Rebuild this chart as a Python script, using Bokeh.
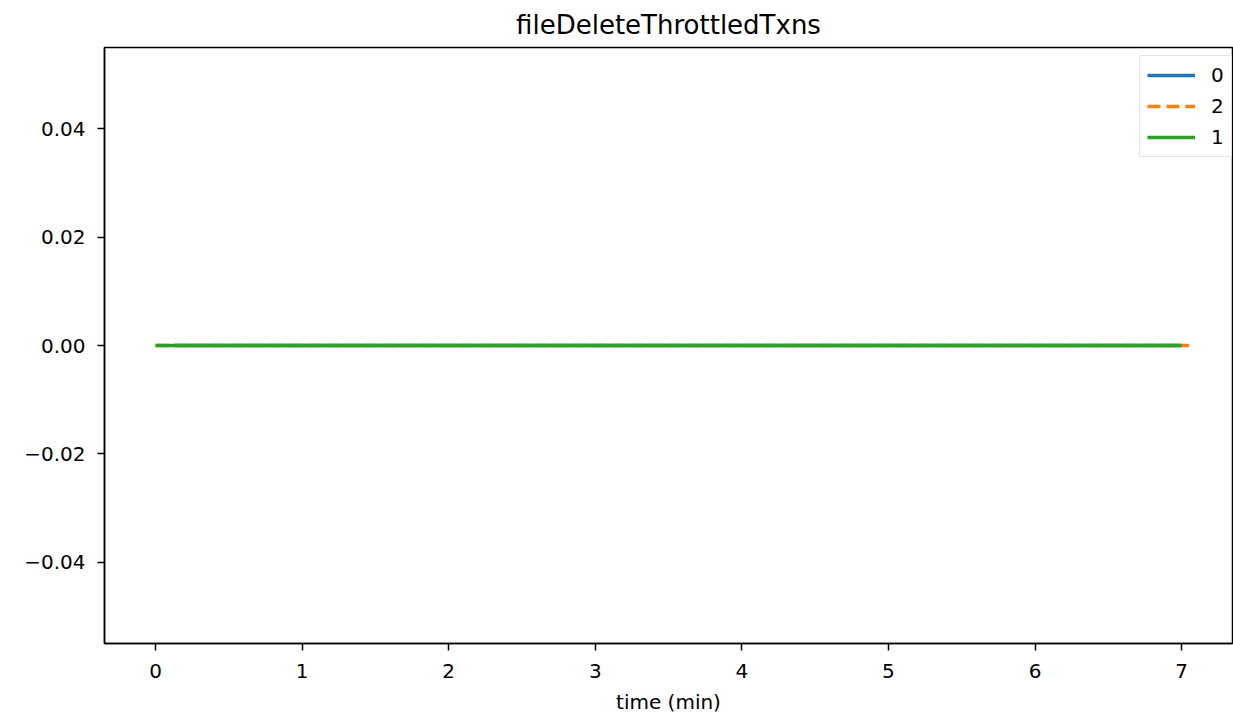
from bokeh.plotting import figure
from bokeh.models import FixedTicker, CustomJSTickFormatter, Range1d, Legend, LegendItem
from bokeh.embed import file_html
from bokeh.resources import INLINE

# ---- data ----
title_text = "fileDeleteThrottledTxns"
x_label = "time (min)"
series_names = ["0", "2", "1"]
time_0 = [0.13, 0.5, 1.0, 1.5, 2.0, 2.5, 3.0, 3.5, 4.0, 4.5, 5.0, 5.5, 6.0, 6.5, 7.0]
vals_0 = [0, 0, 0, 0, 0, 0, 0, 0, 0, 0, 0, 0, 0, 0, 0]
time_2 = [0.0, 0.5, 1.0, 1.5, 2.0, 2.5, 3.0, 3.5, 4.0, 4.5, 5.0, 5.5, 6.0, 6.5, 7.05]
vals_2 = [0, 0, 0, 0, 0, 0, 0, 0, 0, 0, 0, 0, 0, 0, 0]
time_1 = [0.0, 0.5, 1.0, 1.5, 2.0, 2.5, 3.0, 3.5, 4.0, 4.5, 5.0, 5.5, 6.0, 6.5, 7.0]
vals_1 = [0, 0, 0, 0, 0, 0, 0, 0, 0, 0, 0, 0, 0, 0, 0]
x_ticks = [0, 1, 2, 3, 4, 5, 6, 7]
y_ticks = [-0.04, -0.02, 0.0, 0.02, 0.04]

FONT = "DejaVu Sans"

p = figure(width=1233, height=719, output_backend="svg", toolbar_location=None,
           x_range=Range1d(-0.348, 7.347), y_range=Range1d(-0.055, 0.055),
           min_border_left=104, min_border_right=1, min_border_top=46, min_border_bottom=76)
p.background_fill_color = "white"
p.border_fill_color = "white"
p.xgrid.visible = False
p.ygrid.visible = False
p.outline_line_color = "black"
p.outline_line_width = 1.5
p.outline_line_alpha = 1.0

p.title.text = title_text
p.title.align = "center"
p.title.text_font = FONT
p.title.text_font_size = "26px"
p.title.text_font_style = "normal"
p.title.text_color = "black"
p.title.standoff = 15

for ax in (p.xaxis[0], p.yaxis[0]):
    ax.axis_line_color = "black"
    ax.axis_line_width = 1.5
    ax.major_tick_line_width = 1.5
    ax.major_tick_out = 7
    ax.major_tick_in = 0
    ax.minor_tick_line_color = None
    ax.major_label_text_font = FONT
    ax.major_label_text_font_size = "20px"
    ax.major_label_text_color = "black"

p.xaxis[0].major_label_standoff = 13
p.yaxis[0].major_label_standoff = 12
p.xaxis[0].ticker = FixedTicker(ticks=x_ticks)
p.yaxis[0].ticker = FixedTicker(ticks=y_ticks)
p.yaxis[0].formatter = CustomJSTickFormatter(
    code="return tick < -1e-12 ? '\\u2212' + Math.abs(tick).toFixed(2) : Math.abs(tick).toFixed(2);")
p.xaxis[0].axis_label = x_label
p.xaxis[0].axis_label_text_font = FONT
p.xaxis[0].axis_label_text_font_size = "20px"
p.xaxis[0].axis_label_text_font_style = "normal"
p.xaxis[0].axis_label_text_color = "black"
p.xaxis[0].axis_label_standoff = 9

LW = 3.5
r0 = p.line(time_0, vals_0, line_color="#1f77b4", line_width=LW)
r2 = p.line(time_2, vals_2, line_color="#ff7f0e", line_width=LW, line_dash="13 6")
r1 = p.line(time_1, vals_1, line_color="#2ca02c", line_width=LW)

legend = Legend(items=[LegendItem(label=series_names[0], renderers=[r0]),
                       LegendItem(label=series_names[1], renderers=[r2]),
                       LegendItem(label=series_names[2], renderers=[r1])],
                location=(1035, 486), margin=0)
legend.label_text_font = FONT
legend.label_text_font_size = "20px"
legend.label_text_color = "black"
legend.glyph_width = 48
legend.glyph_height = 24
legend.label_height = 24
legend.label_width = 12
legend.label_standoff = 16
legend.spacing = 7
legend.padding = 7
legend.border_line_color = "#cccccc"
legend.border_line_width = 1.5
legend.background_fill_color = "white"
legend.background_fill_alpha = 0.8
p.add_layout(legend)

open("out.html", "w").write(file_html(p, INLINE))
